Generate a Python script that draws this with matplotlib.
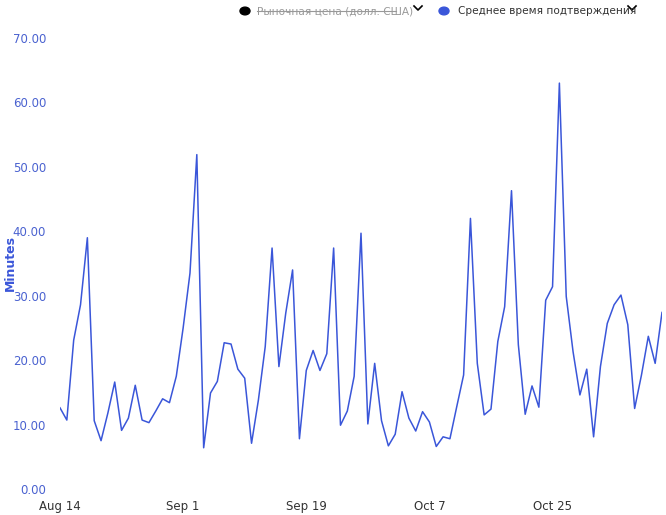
import matplotlib
matplotlib.use("Agg")
import matplotlib.pyplot as plt
import pandas as pd

start_date = "2023-08-14"
minutes = [12.6,10.7,23.1,28.6,39.0,10.6,7.5,11.8,16.6,9.1,11.0,16.1,10.7,10.3,12.1,14.0,13.4,17.5,25.0,33.5,
           51.9,6.4,14.9,16.7,22.7,22.5,18.6,17.2,7.1,13.8,22.1,37.4,19.0,27.3,34.0,7.8,18.4,21.5,18.4,21.0,
           37.4,9.9,12.1,17.5,39.7,10.1,19.5,10.6,6.7,8.5,15.1,11.0,9.0,12.0,10.4,6.6,8.1,7.8,12.8,17.7,
           42.0,19.5,11.5,12.4,22.9,28.3,46.3,22.4,11.6,16.0,12.7,29.3,31.4,63.0,29.9,21.3,14.6,18.6,8.1,19.0,
           25.7,28.6,30.1,25.5,12.5,17.7,23.7,19.5,27.4]
dates = pd.date_range(start_date, periods=len(minutes), freq="D")
tick_dates = pd.to_datetime(["2023-08-14","2023-09-01","2023-09-19","2023-10-07","2023-10-25"])
tick_labels = ["Aug 14","Sep 1","Sep 19","Oct 7","Oct 25"]
y_ticks = [0,10,20,30,40,50,60,70]

blue = "#3a56d9"
W, H = 666, 515
fig = plt.figure(figsize=(6.66,5.15), dpi=100)
ax = fig.add_axes([60/W, 1-489/H, 602/W, (489-38)/H])
ax.plot(dates, minutes, color=blue, lw=1.1)
ax.set_ylim(0,70)
ax.set_xlim(dates[0], dates[-1])
ax.set_yticks(y_ticks)
ax.set_yticklabels([f"{v:.2f}" for v in y_ticks], color="#4a62d0", fontsize=8.5)
ax.set_xticks(tick_dates)
ax.set_xticklabels(tick_labels, color="#333333", fontsize=8.5)
ax.tick_params(length=0, pad=8)
ax.tick_params(axis='y', pad=10)
for s in ax.spines.values():
    s.set_visible(False)
fig.text(10/W, 1-263/H, "Minutes", color=blue, fontweight="bold", fontsize=9,
         rotation=90, va="center", ha="center")

def fx(px): return px / W
def fy(py): return 1 - py / H

def chevron(cx, cy):
    fig.add_artist(plt.Line2D([fx(cx-4), fx(cx), fx(cx+4)], [fy(cy-2), fy(cy+2), fy(cy-2)],
                              color="black", lw=1.2, transform=fig.transFigure))

# legend
fig.patches.append(plt.Circle((fx(245), fy(11)), 0.0075, transform=fig.transFigure, color="black", figure=fig))
fig.text(fx(257), fy(11), "Рыночная цена (долл. США)", color="#999999", fontsize=7.6, va="center")
fig.add_artist(plt.Line2D([fx(257), fx(396)], [fy(11)]*2, color="#999999", lw=0.8, transform=fig.transFigure))
chevron(418, 8)
fig.patches.append(plt.Circle((fx(444), fy(11)), 0.0075, transform=fig.transFigure, color=blue, figure=fig))
fig.text(fx(458), fy(11), "Среднее время подтверждения", color="#333333", fontsize=7.6, va="center")
chevron(632, 8)

fig.savefig("out.png", dpi=100)
